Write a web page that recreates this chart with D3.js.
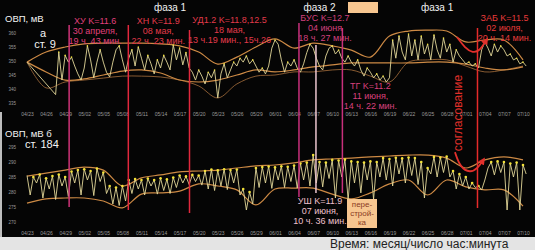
<!DOCTYPE html>
<html>
<head>
<meta charset="utf-8">
<script src="https://cdn.jsdelivr.net/npm/d3@7"></script>
<style>
body{margin:0;background:#050505;}
svg{display:block;}
text{font-family:"Liberation Sans",Arial,sans-serif;}
</style>
</head>
<body>
<svg id="chart" width="535" height="250"></svg>
<script>

// axis labels (every 3 days)
var tickLabels = ["04/23","04/26","04/29","05/02","05/05","05/08","05/11","05/14","05/17",
  "05/20","05/23","05/26","05/29","06/01","06/04","06/07","06/10","06/13","06/16",
  "06/19","06/22","06/25","06/28","07/01","07/04","07/07","07/10"];
var topTicks = [335,340,345,350,355,360];
var botTicks = [270,275,280,285,290,295];

// station 9: readings every 12 h, first one at day 0 then from day 4.5
var topRawStart = 4.5;
var topRawFirst = 349.6;
var topRaw = [
  338,353.2,343.2,352,349.6,351.4,348.2,345.4,343.2,347.5,
  355.4,350.4,344,349.6,354,349.6,346,344.3,349.6,354,
  355.4,350.4,346,351,354,348.2,355,351,346.8,352,
  349,345.4,350.4,347.5,352,349.6,346.8,355.7,350.4,354.6,
  348.6,353,347.5,346,343.2,346.8,344.6,341.8,346,344,
  346.8,336.8,345.4,349,344,346.8,349.6,348.2,351,349.6,
  351.8,349,350.4,348.2,346,347.5,345.4,348.2,354.6,357.5,
  356,350.4,346,349.6,348.2,350.4,347.5,346,349,353,
  356,354.6,351,348.2,346.8,351.8,354.6,355.4,352.5,353.9,
  351,349.6,351.8,349.6,348.2,350.4,346.8,344.6,347.5,346,
  344,345.4,343.2,344.6,342.5,344,357.5,351,358.9,353.2,
  350.4,359.6,351.8,357.5,350.4,358.9,352.5,356,350.4,359.3,
  354,351,358.2,353.2,356,349.6,354,351.8,350.4,349,
  349.6,348.2,349,347.5,354,356.8,354.6,351.8,356,353.2,
  355.4,354,351.8,352.5,350.4,351,349,349.6,348.2
];
// envelopes, one value every 3 days (at the tick dates)
var topUpper = [349.6,353.2,355,356.1,356.4,356.4,356.4,356.1,355.4,353.2,348.9,351.4,355,
  357.9,354.6,356.4,355.4,353.9,351.4,358.9,360.7,361,360.7,356.8,357.5,357.5,350.4];
var topLower = [349.6,346.1,343.2,343.6,345,346.4,346.8,345.7,343.2,342.5,343.2,345,346.8,
  346.1,346.8,347.9,348.6,349.3,349.3,349.3,349.3,349.6,349.6,348.9,347.5,346.8,347.9];
var topTrough = [349.6,340.4,342.5,343.2,343.9,344.6,344.6,344.3,343.2,341.1,336.8,341.8,344.6,
  345,346.1,346.1,346.8,346.8,344.6,342.5,349.6,350.4,350.4,348.2,346.1,346.8,348.2];

// station 184: readings every 12 h from day 0
var botRaw = [
  285.5,279,285,283,285.8,278,284.6,281,285.3,277.5,
  285.8,282,285,278.5,286.8,283,287.3,279,287.6,284,
  287,278.8,287.8,283.5,286.5,279.5,282,276,281.5,275.5,
  282,277,284,279.5,284.3,281,284,279,284.5,282,
  284,279.3,284.6,280.5,284.2,279.5,284.8,281.5,285.5,283,
  285.2,282.5,285.7,283.5,285.5,282.3,287,281,287.5,280.5,
  287.2,282,287.6,280.8,287.3,283,287.5,279,281,274,
  280,276,288,281.5,288.3,283,288.5,281.2,288.2,284,
  288.6,281.5,288.4,283.5,288.8,281.3,289.5,284,289.8,282,
  292.3,283,290,281.7,289.8,284.5,290.7,278,290.5,285,
  290.8,277.3,290.2,283,290,279.7,289.8,284,290.2,277.5,
  290,285,291.3,284,291,282,291.4,286,291.2,283,
  291.5,285.5,291.3,282.5,290,278,288,286,291.7,285,
  291.5,286.5,291.8,285,287,281,286,282,285,281,
  283,281.5,282,280.7,284,288,290,285.7,290.2,286.5,
  290,274,289.5,285,289.8,274,289,286
];
var botUpper = [285.3,286.3,287.3,288.3,287.3,282,284.7,285.7,286.7,287,287.3,288,288.7,
  289,289.7,290.7,291,291.3,291.7,292,292.3,292.3,291.3,288,290.7,291.7,290.7];
var botLower = [276.3,277.7,278,278,277,274.7,279.3,279.7,280.3,282.7,282,280.7,275.7,
  281,281.3,281.3,279.3,277.7,279.7,282.7,284,279,284,281.7,280.7,280.7,275.3];

// events
var evNames = ["ХУ","ХН","УД1.2","БУС","УШ","ТГ","ЗАБ"];
var evTimes = ["2013-04-29T15:00","2013-05-08T22:23","2013-05-18T13:19","2013-06-04T18:27",
  "2013-06-07T10:36","2013-06-11T14:22","2013-07-02T20:14"];
var evText = [
  ["ХУ K=11.6","30 апреля,","19 ч. 43 мин."],
  ["ХН K=11.9","08 мая,","22 ч. 23 мин."],
  ["УД1.2 K=11.8,12.5","18 мая,","13 ч.19 мин., 15ч.26"],
  ["БУС K=12.7","04 июня","18 ч. 27 мин."],
  ["УШ K=11.9","07 июня,","10 ч. 36 мин."],
  ["ТГ K=11.2","11 июня,","14 ч. 22 мин."],
  ["ЗАБ K=11.5","02 июля,","20 ч. 14 мин."]
];
var evColors = ["#cf3479","#e2283d","#e2283d","#c8307c","#ecc6cf","#c8307c","#e62b2b"];

// arrows "согласование" (day, mV)
var arrowTopDays = [67.6,68.9,70.1,71.2,72.2];
var arrowTopVals = [358.6,354.6,352.9,353.6,357.3];
var arrowBotDays = [67.3,68.1,69.7,70.9,71.7];
var arrowBotVals = [293.3,288.3,286.3,288,290.5];

var svg = d3.select("#chart");
var parse = d3.utcParse("%Y-%m-%dT%H:%M");
var t0 = parse("2013-04-23T00:00");
function dayDate(d){ return new Date(t0.getTime() + d*864e5); }
var tickDates = tickLabels.map(function(s){ return d3.utcParse("%Y/%m/%d")("2013/"+s); });

var x = d3.scaleUtc().domain([t0, dayDate(78)]).range([27, 523]);
var yTop = d3.scaleLinear().domain([335,360]).range([103,33]);
var yBot = d3.scaleLinear().domain([270,295]).range([222,147]);

svg.append("rect").attr("width",535).attr("height",250).attr("fill","#050505");
svg.append("rect").attr("x",0).attr("y",237).attr("width",535).attr("height",13).attr("fill","#e4e4e4");
svg.append("rect").attr("x",0).attr("y",112).attr("width",2).attr("height",125).attr("fill","#bdbdbd");

svg.append("defs").append("marker").attr("id","ah")
  .attr("viewBox","0 0 10 10").attr("refX",5).attr("refY",5)
  .attr("markerWidth",4).attr("markerHeight",4).attr("orient","auto")
  .append("path").attr("d","M0,0L10,5L0,10z").attr("fill","#e2302c");

function drawPanel(y, ticks, axisY, raw, rawDays, envs, dotR){
  var g = svg.append("g");
  g.append("g").attr("transform","translate(17,0)")
    .call(d3.axisLeft(y).tickValues(ticks).tickSize(0).tickPadding(1))
    .call(function(a){ a.select(".domain").remove(); })
    .selectAll("text").attr("fill","#9a9a9a").style("font-size","4.5px");
  g.append("g").attr("transform","translate(0,"+axisY+")")
    .call(d3.axisBottom(x).tickValues(tickDates).tickFormat(d3.utcFormat("%m/%d")).tickSize(0).tickPadding(2))
    .call(function(a){ a.select(".domain").remove(); })
    .selectAll("text").attr("fill","#9a9a9a").style("font-size","5px");

  envs.forEach(function(e){
    g.append("path").datum(e.vals)
      .attr("fill","none").attr("stroke",e.color).attr("stroke-width",e.w)
      .attr("d", d3.line().curve(d3.curveCatmullRom)
        .x(function(d,i){ return x(tickDates[i]); }).y(function(d){ return y(d); }));
  });

  var pts = raw.map(function(v,i){ return [rawDays[i], v]; });
  g.append("path").datum(pts)
    .attr("fill","none").attr("stroke","#e2d798").attr("stroke-width",0.9)
    .attr("d", d3.line().x(function(d){ return x(dayDate(d[0])); }).y(function(d){ return y(d[1]); }));

  var peaks = pts.filter(function(d,i){
    return i>0 && i<pts.length-1 && d[1]>=pts[i-1][1] && d[1]>=pts[i+1][1];
  });
  g.selectAll("circle.pk").data(peaks).enter().append("circle")
    .attr("cx",function(d){ return x(dayDate(d[0])); })
    .attr("cy",function(d){ return y(d[1]); })
    .attr("r",dotR).attr("fill","#f2e13a");
}

var topDays = [0].concat(topRaw.map(function(v,i){ return topRawStart + i*0.5; }));
drawPanel(yTop, topTicks, 110, [topRawFirst].concat(topRaw), topDays, [
  {vals: topTrough, color:"#a8703c", w:0.8},
  {vals: topUpper, color:"#cd8a45", w:1.2},
  {vals: topLower, color:"#cd8a45", w:1.2}
], 0.8);
var botDays = botRaw.map(function(v,i){ return i*0.5; });
drawPanel(yBot, botTicks, 229, botRaw, botDays, [
  {vals: botUpper, color:"#cd8a45", w:1.2},
  {vals: botLower, color:"#cd8a45", w:1.2}
], 1.3);

// event lines
var evTop = [25,25,30,23,45,28,28];
var evBot = [207,210,213,197,193,193,208];
evTimes.forEach(function(t,i){
  svg.append("line")
    .attr("x1", x(parse(t))).attr("x2", x(parse(t)))
    .attr("y1", evTop[i]).attr("y2", evBot[i])
    .attr("stroke", evColors[i]).attr("stroke-width",1.5);
});

// event labels
var lbColors = ["#e0407c","#e23a4a","#e23a4a","#d2407e","#eec0cc","#d8407c","#e83a3a"];
var lbDx = [26,30,40,26,4,28,27];
var lbY = [24,24,23,21,204,89,21];
evText.forEach(function(rows,i){
  var cx = x(parse(evTimes[i])) + lbDx[i];
  rows.forEach(function(r,j){
    svg.append("text").attr("x",cx).attr("y",lbY[i] + j*9.8)
      .attr("text-anchor","middle").attr("fill",lbColors[i])
      .style("font-size","9px").text(r);
  });
});

// phases
var phaseDays = [22.5,46,64.5];
var phaseNames = ["фаза 1","фаза 2","фаза 1"];
phaseNames.forEach(function(p,i){
  svg.append("text").attr("x",x(dayDate(phaseDays[i]))).attr("y",11)
    .attr("text-anchor","middle").attr("fill","#f2f2f2").style("font-size","10px").text(p);
});
svg.append("rect").attr("x",348).attr("y",2).attr("width",30).attr("height",11).attr("fill","#f7c690");

// перестройка box
svg.append("rect").attr("x",347).attr("y",199).attr("width",30).attr("height",29).attr("fill","#f7c690");
["пере-","строй-","ка"].forEach(function(s,j){
  svg.append("text").attr("x",362).attr("y",207+j*9).attr("text-anchor","middle")
    .attr("fill","#8a3a1e").style("font-size","8px").text(s);
});

// panel titles
svg.append("text").attr("x",5).attr("y",22).attr("fill","#f4f4f4").style("font-size","9.5px").text("ОВП, мВ");
svg.append("text").attr("x",43).attr("y",37).attr("text-anchor","middle").attr("fill","#f4f4f4").style("font-size","11px").text("а");
svg.append("text").attr("x",45).attr("y",48).attr("text-anchor","middle").attr("fill","#f4f4f4").style("font-size","11px").text("ст. 9");
svg.append("text").attr("x",5).attr("y",137).attr("fill","#f4f4f4").style("font-size","9.5px").text("ОВП, мВ  б");
svg.append("text").attr("x",25).attr("y",148).attr("fill","#f4f4f4").style("font-size","11px").text("ст. 184");

// согласование
svg.append("text").attr("transform","translate(462,113) rotate(-90)")
  .attr("text-anchor","middle").attr("fill","#e0302a").style("font-size","12px").text("согласование");
[[arrowTopDays,arrowTopVals,yTop],[arrowBotDays,arrowBotVals,yBot]].forEach(function(a){
  var pts = a[0].map(function(d,i){ return [x(dayDate(d)), a[2](a[1][i])]; });
  svg.append("path").datum(pts).attr("fill","none").attr("stroke","#e2302c").attr("stroke-width",1.8)
    .attr("marker-end","url(#ah)")
    .attr("d", d3.line().curve(d3.curveBasis));
});

svg.append("text").attr("x",330).attr("y",248).attr("fill","#222").style("font-size","12px")
  .text("Время: месяц/число час:минута");
</script>
</body>
</html>
